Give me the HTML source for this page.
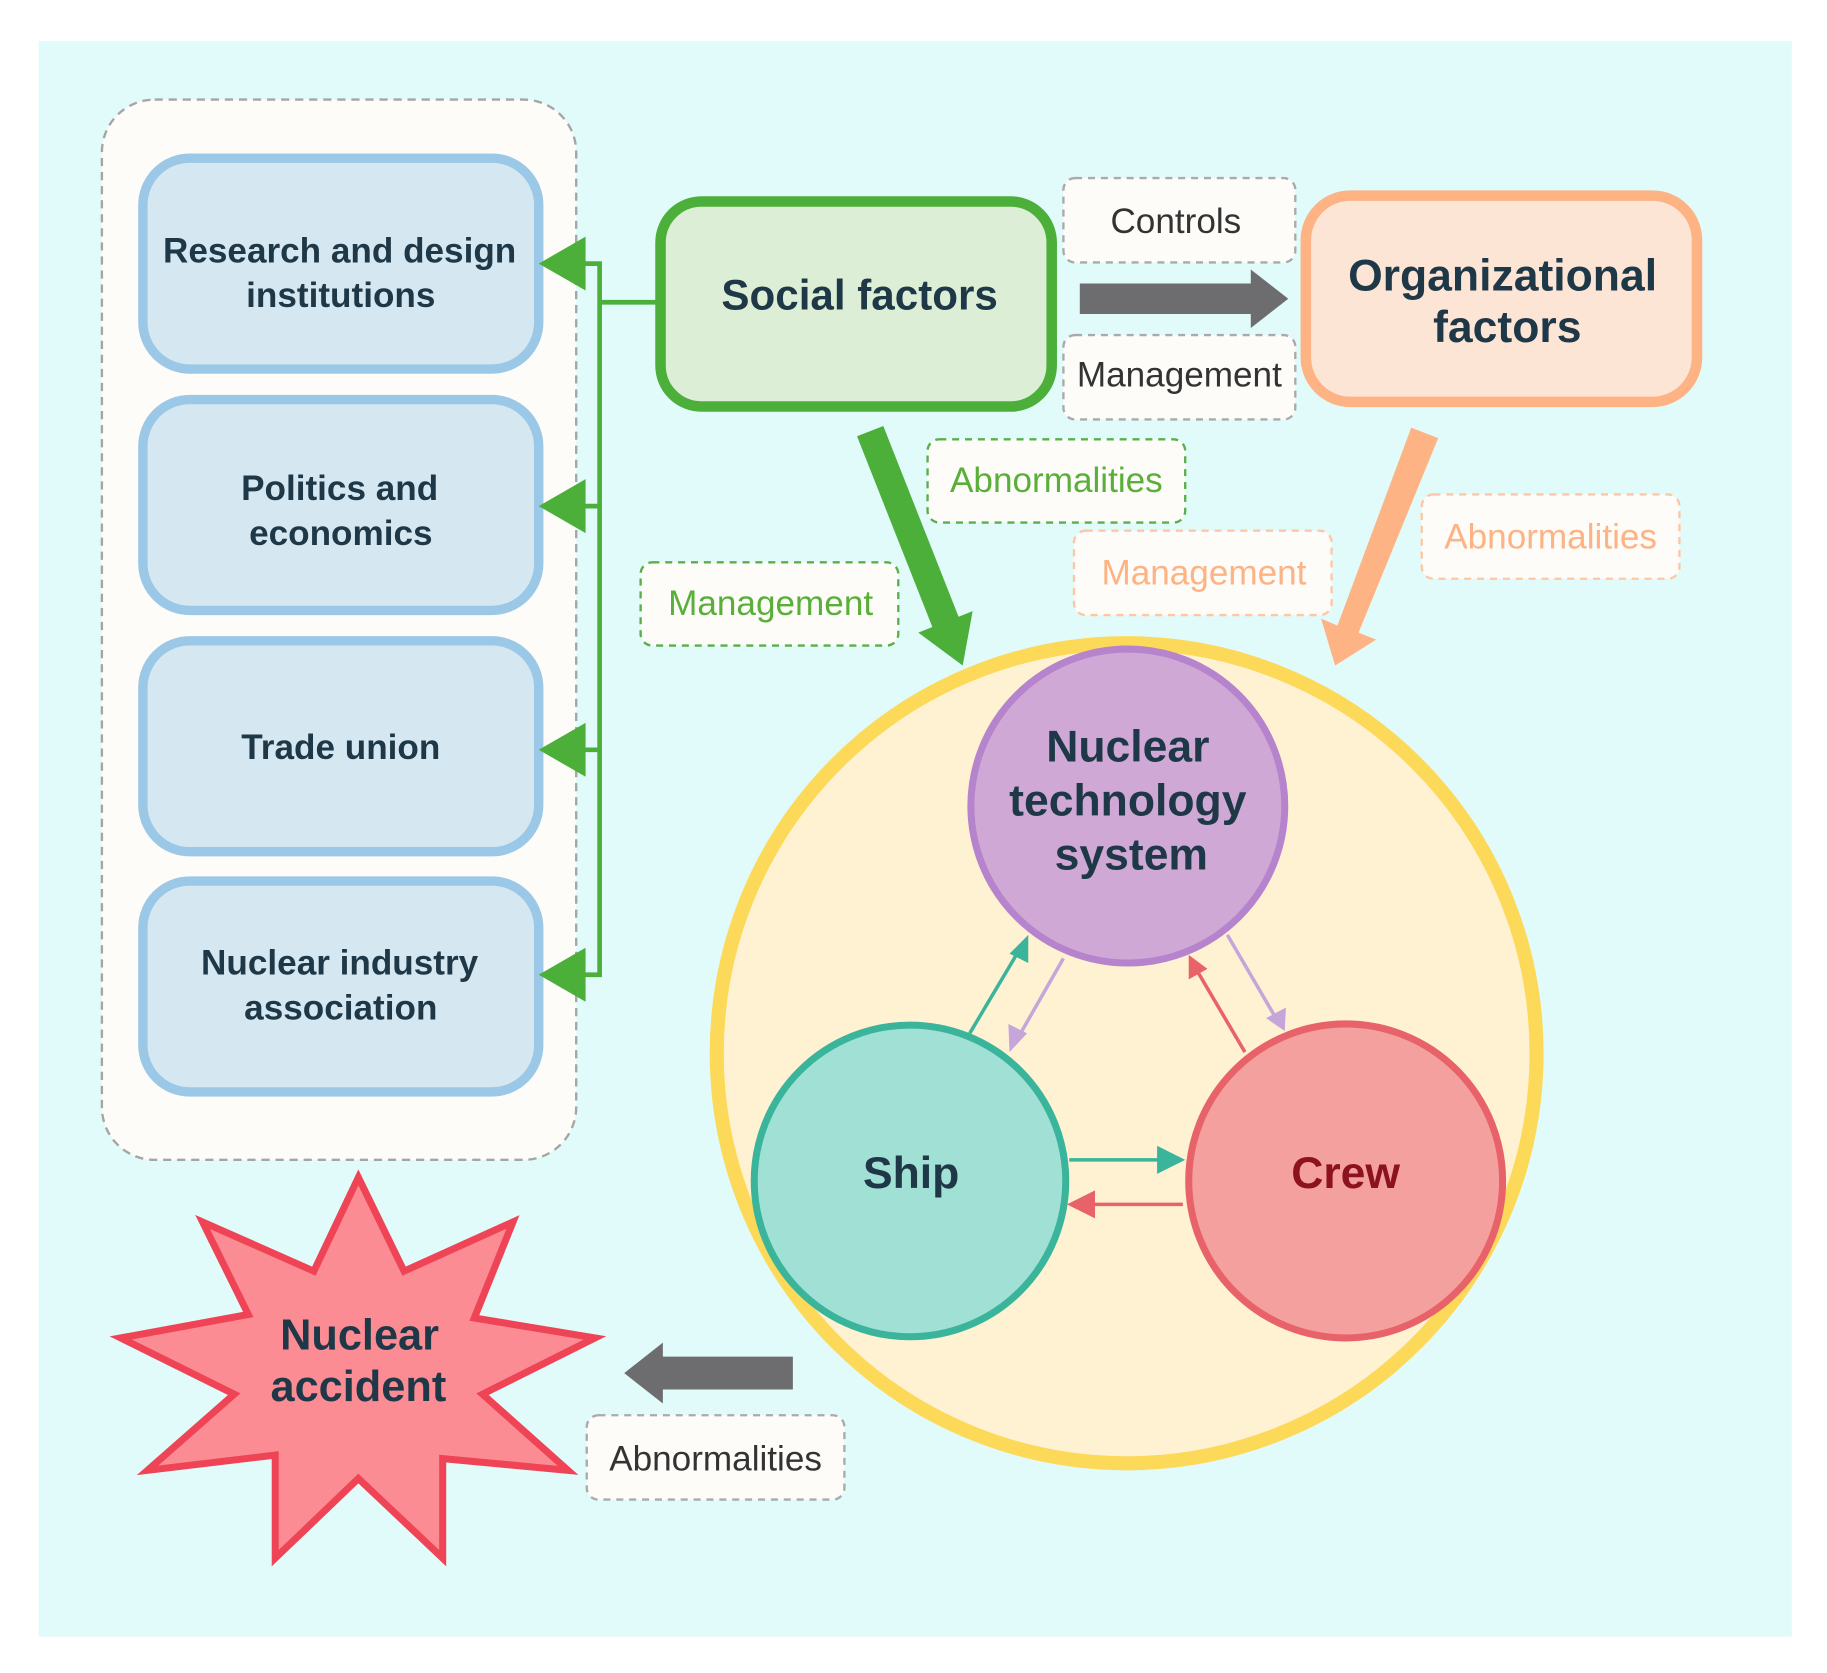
<!DOCTYPE html>
<html><head><meta charset="utf-8"><style>
html,body{margin:0;padding:0;background:#fff;}
svg{display:block;}
text{font-family:"Liberation Sans",sans-serif;}
</style></head><body>
<svg width="1827" height="1673" viewBox="0 0 1560 1428" preserveAspectRatio="none" xmlns="http://www.w3.org/2000/svg">
<rect x="0" y="0" width="1560" height="1428" fill="#fff"/>
<rect x="33" y="35" width="1497" height="1362" fill="#e0fbf9"/>
<rect x="87" y="85" width="405" height="905" rx="45" fill="#fdfcf8" stroke="#a5a5a5" stroke-width="2" stroke-dasharray="7,5"/>
<g fill="#d5e8f2" stroke="#9bc8e6" stroke-width="8">
<rect x="122" y="135" width="338" height="180" rx="40"/>
<rect x="122" y="341" width="338" height="180" rx="40"/>
<rect x="122" y="547" width="338" height="180" rx="40"/>
<rect x="122" y="752" width="338" height="180" rx="40"/>
</g>
<g font-weight="bold" font-size="30" fill="#1f3847" text-anchor="middle">
<text x="290" y="224">Research and design</text><text x="291" y="262">institutions</text>
<text x="290" y="427">Politics and</text><text x="291" y="465">economics</text>
<text x="291" y="648">Trade union</text>
<text x="290" y="832">Nuclear industry</text><text x="291" y="870">association</text>
</g>
<g stroke="#4caf3a" stroke-width="4" fill="none">
<polyline points="490,225 512,225 512,832 490,832"/>
<line x1="490" y1="432" x2="512" y2="432"/><line x1="490" y1="640" x2="512" y2="640"/>
<line x1="512" y1="258" x2="562" y2="258"/>
</g>
<g fill="#4caf3a">
<polygon points="460,225 500,202 500,248"/><polygon points="460,432 500,409 500,455"/>
<polygon points="460,640 500,617 500,663"/><polygon points="460,832 500,809 500,855"/>
</g>
<rect x="564" y="172" width="334" height="175" rx="35" fill="#dcefd6" stroke="#4caf3a" stroke-width="9"/>
<text x="734" y="264" font-weight="bold" font-size="36" fill="#1f3847" text-anchor="middle">Social factors</text>
<rect x="1115" y="167" width="334" height="176" rx="38" fill="#fde5d6" stroke="#fdb384" stroke-width="9"/>
<text x="1283" y="248" font-weight="bold" font-size="38" fill="#1f3847" text-anchor="middle">Organizational</text>
<text x="1287" y="292" font-weight="bold" font-size="38" fill="#1f3847" text-anchor="middle">factors</text>
<g stroke-width="2" stroke-dasharray="6,5" fill="#fdfcf8">
<rect x="908" y="152" width="198" height="72" rx="10" stroke="#aaa"/>
<rect x="908" y="286" width="198" height="72" rx="10" stroke="#aaa"/>
<rect x="792" y="375" width="220" height="71" rx="10" stroke="#5aaf4a"/>
<rect x="547" y="480" width="220" height="71" rx="10" stroke="#5aaf4a"/>
<rect x="917" y="453" width="220" height="72" rx="10" stroke="#fdc7a6"/>
<rect x="1214" y="422" width="220" height="72" rx="10" stroke="#fdc7a6"/>
<rect x="501" y="1208" width="220" height="72" rx="10" stroke="#aaa"/>
</g>
<g font-size="30" text-anchor="middle">
<text x="1004" y="199" fill="#333">Controls</text>
<text x="1007" y="330" fill="#333">Management</text>
<text x="902" y="420" fill="#5aaf3a">Abnormalities</text>
<text x="658" y="525" fill="#5aaf3a">Management</text>
<text x="1028" y="499" fill="#fdb384">Management</text>
<text x="1324" y="468" fill="#fdb384">Abnormalities</text>
<text x="611" y="1255" fill="#333">Abnormalities</text>
</g>
<polygon points="922,242 1068,242 1068,230 1100,255 1068,280 1068,268 922,268" fill="#6d6d70"/>
<polygon points="731.8,372.4 754.2,363.6 818.5,526.4 830.5,521.6 822,568 784.1,540 796.1,535.2" fill="#4caf3a"/>
<polygon points="1205,365 1228,374 1160,540 1175,546 1140,568 1128,528 1142,534" fill="#fdb384"/>
<polygon points="677,1158 566,1158 566,1146 533,1172 566,1198 566,1186 677,1186" fill="#6d6d70"/>
<circle cx="962" cy="899" r="350" fill="#fff2d2" stroke="#fdd95a" stroke-width="12"/>
<circle cx="963" cy="688" r="134" fill="#cfa8d6" stroke="#b584cc" stroke-width="6"/>
<circle cx="777" cy="1008" r="133" fill="#a1e0d4" stroke="#3ab59c" stroke-width="6"/>
<circle cx="1149" cy="1008" r="134" fill="#f4a09e" stroke="#e8626a" stroke-width="6"/>
<g font-weight="bold" text-anchor="middle">
<text x="963" y="650" font-size="38" fill="#1f3847">Nuclear</text>
<text x="963" y="696" font-size="38" fill="#1f3847">technology</text>
<text x="966" y="742" font-size="38" fill="#1f3847">system</text>
<text x="778" y="1014" font-size="38" fill="#1f3847">Ship</text>
<text x="1149" y="1014" font-size="38" fill="#8c1220">Crew</text>
</g>
<g stroke-width="3" fill="none">
<line x1="828" y1="882" x2="872" y2="808" stroke="#3ab59c"/>
<line x1="908" y1="818" x2="868" y2="888" stroke="#c6a6da"/>
<line x1="1063" y1="898" x2="1020" y2="825" stroke="#e8626a"/>
<line x1="1048" y1="798" x2="1090" y2="870" stroke="#c6a6da"/>
<line x1="913" y1="990" x2="995" y2="990" stroke="#3ab59c"/>
<line x1="1010" y1="1028" x2="928" y2="1028" stroke="#e8626a"/>
</g>
<polygon points="878,798 878,822 862,814" fill="#3ab59c"/>
<polygon points="862,898 861,874 877,882" fill="#c6a6da"/>
<polygon points="1015,815 1031,827 1015,836" fill="#e8626a"/>
<polygon points="1097,880 1081,869 1098,860" fill="#c6a6da"/>
<polygon points="1012,990 988,978 988,1002" fill="#3ab59c"/>
<polygon points="911,1028 935,1016 935,1040" fill="#e8626a"/>
<polygon points="306,1005 345,1085 438,1043 405,1125 508,1142 412,1190 485,1255 378,1245 378,1330 306,1262 235,1330 235,1242 126,1255 200,1190 103,1142 212,1122 173,1043 268,1085" fill="#fc8c94" stroke="#ee4456" stroke-width="6" stroke-linejoin="miter"/>
<text x="307" y="1152" font-weight="bold" font-size="37" fill="#1f3847" text-anchor="middle">Nuclear</text>
<text x="306" y="1196" font-weight="bold" font-size="37" fill="#1f3847" text-anchor="middle">accident</text>
</svg>
</body></html>
